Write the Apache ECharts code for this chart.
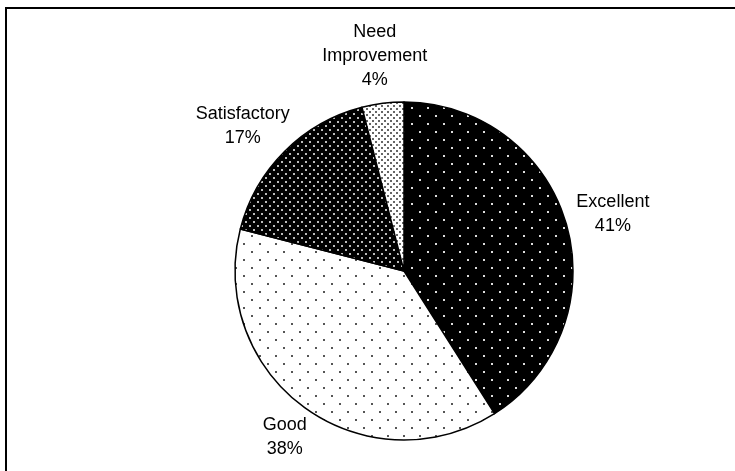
<!DOCTYPE html>
<html>
<head>
<meta charset="utf-8">
<script src="https://cdn.jsdelivr.net/npm/echarts@6/dist/echarts.min.js"></script>
<style>
  html, body { margin: 0; padding: 0; background: #fff; }
  #chart { width: 735px; height: 471px; }
</style>
</head>
<body>
<div id="chart"></div>
<script>
  // data
  const categories = ['Excellent', 'Good', 'Satisfactory', 'Need\nImprovement'];
  const values = [41, 38, 17, 4];

  const CX = 404;
  const CY = 271;
  const R = 169;
  const LABEL_GAP = 12;

  // small canvas tiles for the dotted fills
  const makePattern = (size, bg, dot, dotSize, points) => {
    const c = document.createElement('canvas');
    c.width = size;
    c.height = size;
    const ctx = c.getContext('2d');
    ctx.fillStyle = bg;
    ctx.fillRect(0, 0, size, size);
    ctx.fillStyle = dot;
    points.forEach(([x, y]) => ctx.fillRect(x, y, dotSize, dotSize));
    return { image: c, repeat: 'repeat' };
  };

  const fills = [
    makePattern(16, '#000', '#ddd', 2, [[3, 3], [11, 11]]),
    makePattern(16, '#fff', '#555', 2, [[3, 3], [11, 11]]),
    makePattern(8, '#000', '#bbb', 2, [[1, 1], [5, 5]]),
    makePattern(6, '#fff', '#666', 2, [[0, 0], [3, 3]]),
  ];

  const total = values.reduce((a, b) => a + b, 0);

  // put each label just outside the slice, pushed out by its own box size
  const placeLabel = (params) => {
    const idx = params.dataIndex;
    let before = 0;
    for (let i = 0; i < idx; i++) before += values[i];
    const mid = ((before + values[idx] / 2) / total) * Math.PI * 2;
    const dx = Math.sin(mid);
    const dy = -Math.cos(mid);
    const w = params.labelRect.width;
    const h = params.labelRect.height;
    const ax = CX + dx * (R + LABEL_GAP);
    const ay = CY + dy * (R + LABEL_GAP);
    return {
      x: ax + (dx * w) / 2,
      y: ay + (dy * h) / 2,
      align: 'center',
      verticalAlign: 'middle',
    };
  };

  const chart = echarts.init(document.getElementById('chart'));

  const option = {
    animation: false,
    graphic: [
      {
        type: 'rect',
        shape: { x: 6, y: 8, width: 800, height: 600 },
        style: { fill: 'none', stroke: '#000', lineWidth: 2 },
        silent: true,
      },
    ],
    series: [
      {
        type: 'pie',
        center: [CX, CY],
        radius: R,
        startAngle: 90,
        clockwise: true,
        avoidLabelOverlap: false,
        itemStyle: {
          borderColor: '#000',
          borderWidth: 1.5,
        },
        label: {
          show: true,
          position: 'outside',
          formatter: '{b}\n{d}%',
          fontFamily: '"Liberation Sans", Arial, sans-serif',
          fontSize: 18,
          lineHeight: 24,
          color: '#000',
          align: 'center',
        },
        labelLine: { show: false },
        labelLayout: placeLabel,
        emphasis: { disabled: true },
        data: categories.map((name, i) => ({
          name,
          value: values[i],
          itemStyle: { color: fills[i] },
        })),
      },
    ],
  };

  chart.setOption(option);
</script>
</body>
</html>
